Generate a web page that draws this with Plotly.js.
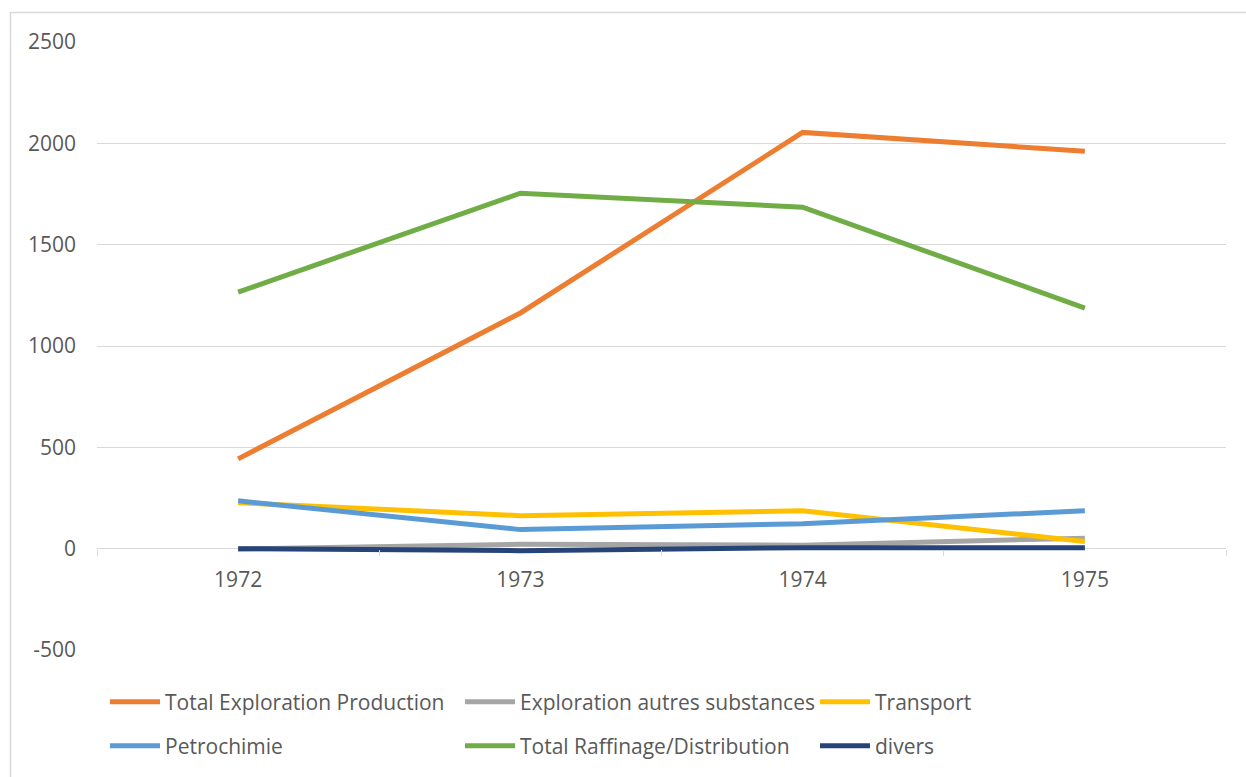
<!DOCTYPE html>
<html>
<head>
<meta charset="utf-8">
<script src="https://cdn.plot.ly/plotly-3.0.1.min.js"></script>
<style>
html,body{margin:0;padding:0;background:#fff;}
#chart{width:1246px;height:777px;}
</style>
</head>
<body>
<div id="chart"></div>
<script>
const years = ["1972", "1973", "1974", "1975"];
const totalExplorationProduction = [443, 1163, 2054, 1961];
const explorationAutresSubstances = [-2, 22, 17, 52];
const transport = [227, 163, 187, 35];
const petrochimie = [236, 94, 123, 187];
const totalRaffinageDistribution = [1266, 1754, 1685, 1187];
const divers = [0, -10, 5, 5];

const seriesNames = ["Total Exploration Production", "Exploration autres substances", "Transport",
  "Petrochimie", "Total Raffinage/Distribution", "divers"];
const seriesValues = [totalExplorationProduction, explorationAutresSubstances, transport,
  petrochimie, totalRaffinageDistribution, divers];
const colors = ["#ED7D31", "#A5A5A5", "#FFC000", "#5B9BD5", "#70AD47", "#264478"];
const legendOf = ["legend", "legend", "legend", "legend2", "legend2", "legend2"];

const FONT = "Open Sans, Liberation Sans, Arial, sans-serif";

const traces = seriesNames.map((n, i) => ({
  type: "scatter",
  mode: "lines",
  name: n,
  x: years,
  y: seriesValues[i],
  line: {color: colors[i], width: 5, shape: "linear"},
  legend: legendOf[i],
  hoverinfo: "x+y+name"
}));

const L = 97, T = 42, W = 1129, H = 609;
const px = v => (v - L) / W;
const py = v => (T + H - v) / H;

const legendCommon = {
  orientation: "h",
  xanchor: "left",
  yanchor: "middle",
  font: {family: FONT, size: 21, color: "#595959"},
  entrywidth: 290,
  entrywidthmode: "pixels",
  itemwidth: 50,
  bgcolor: "rgba(0,0,0,0)",
  traceorder: "normal"
};

const layout = {
  width: 1246,
  height: 777,
  margin: {l: L, r: 1246 - L - W, t: T, b: 777 - T - H, pad: 0},
  paper_bgcolor: "#ffffff",
  plot_bgcolor: "#ffffff",
  font: {family: FONT, size: 21, color: "#595959"},
  showlegend: true,
  xaxis: {
    type: "category",
    anchor: "free",
    position: 500 / 3000,
    showgrid: false,
    showline: false,
    zeroline: false,
    ticks: "outside",
    tickson: "boundaries",
    ticklen: 6,
    tickcolor: "#d9d9d9",
    tickwidth: 1,
    ticklabelstandoff: 16,
    tickfont: {family: FONT, size: 21, color: "#595959"},
    range: [-0.5, 3.5],
    fixedrange: true
  },
  yaxis: {
    range: [-500, 2500],
    tickvals: [-500, 0, 500, 1000, 1500, 2000, 2500],
    ticktext: ["-500", "0", "500", "1000", "1500", "2000", "2500"],
    showgrid: true,
    gridcolor: "#d9d9d9",
    gridwidth: 1,
    zeroline: true,
    zerolinecolor: "#d9d9d9",
    zerolinewidth: 1.5,
    showline: false,
    ticks: "",
    ticklabelstandoff: 20,
    tickfont: {family: FONT, size: 21, color: "#595959"},
    fixedrange: true
  },
  legend: Object.assign({}, legendCommon, {x: px(105), y: py(702)}),
  legend2: Object.assign({}, legendCommon, {x: px(105), y: py(746)}),
  shapes: [{
    type: "rect", xref: "paper", yref: "paper",
    x0: px(10.5), x1: px(1300), y0: py(12.5), y1: py(900),
    line: {color: "#d9d9d9", width: 1.5}, fillcolor: "rgba(0,0,0,0)", layer: "below"
  }]
};

Plotly.newPlot("chart", traces, layout, {displayModeBar: false, staticPlot: true});
</script>
</body>
</html>
